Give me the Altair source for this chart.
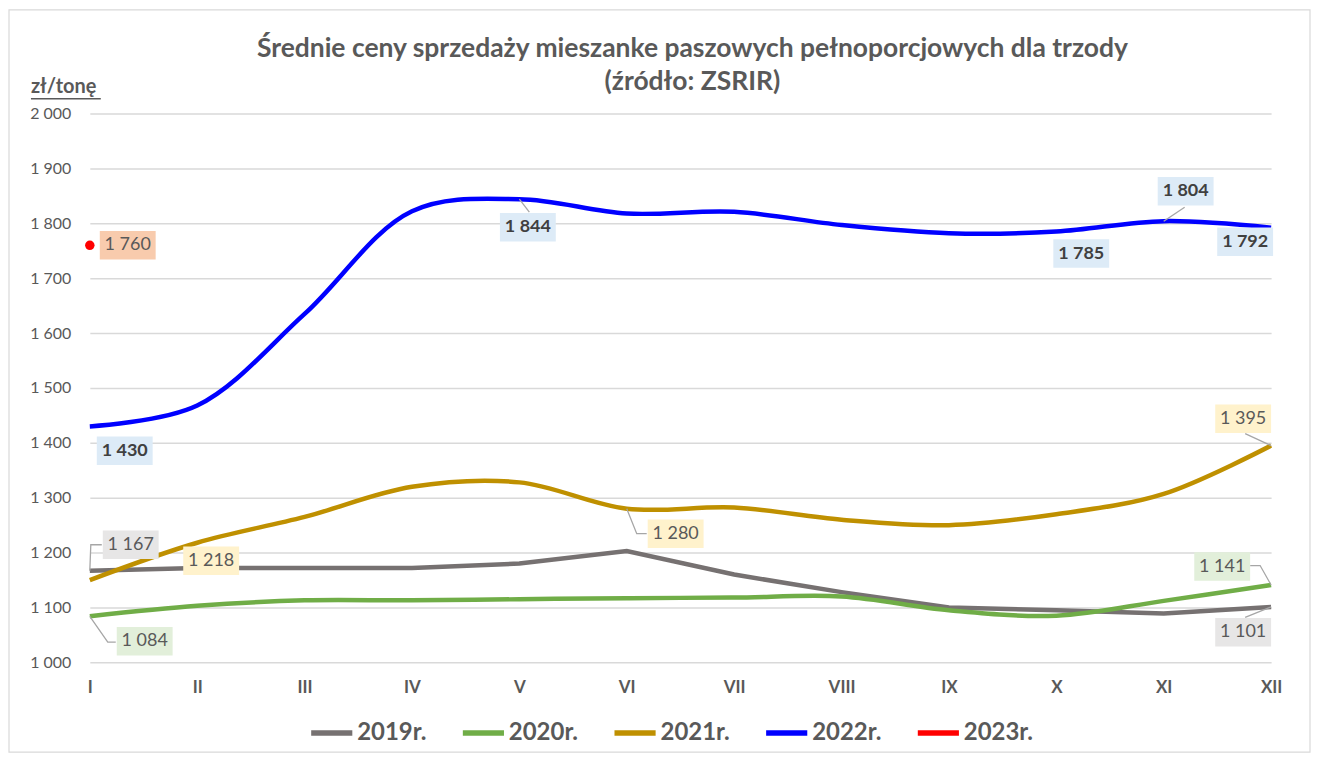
import altair as alt
import pandas as pd

# ---- data ----
months = list(range(1, 13))
roman = ["I", "II", "III", "IV", "V", "VI", "VII", "VIII", "IX", "X", "XI", "XII"]
series_names = ["2019r.", "2020r.", "2021r.", "2022r.", "2023r."]
v2019 = [1167, 1172, 1172, 1172, 1180, 1203, 1160, 1128, 1100, 1095, 1089, 1101]
v2020 = [1084, 1103, 1113, 1113, 1115, 1117, 1118, 1120, 1095, 1085, 1112, 1141]
v2021 = [1150, 1218, 1265, 1320, 1328, 1280, 1282, 1260, 1250, 1270, 1307, 1395]
v2022 = [1430, 1468, 1635, 1822, 1844, 1818, 1821, 1797, 1782, 1785, 1804, 1792]
v2023 = [1760]
y_ticks = list(range(1000, 2001, 100))
title_lines = ["Średnie ceny sprzedaży mieszanke paszowych pełnoporcjowych dla trzody",
               "(źródło: ZSRIR)"]
unit_label = "zł/tonę"

# ---- styles ----
line_colors = ["#767171", "#70AD47", "#BF9000", "#0000FF", "#FF0000"]
box_colors = {"2019r.": "#E7E6E6", "2020r.": "#E2EFDA", "2021r.": "#FFF2CC",
              "2022r.": "#DDEBF7", "2023r.": "#F8CBAD"}
FONT = "Lato"
GREY = "#595959"

W, H = 1184, 550
PX = W / 11.0
PY = H / 1000.0

values = {"2019r.": v2019, "2020r.": v2020, "2021r.": v2021, "2022r.": v2022, "2023r.": v2023}

rows = []
for name in series_names:
    for i, v in enumerate(values[name]):
        rows.append({"series": name, "month": months[i], "value": v})
df = pd.DataFrame(rows)

# label placement: (series, month, dx, dy, leader offsets) in pixels relative to the point
label_specs = [
    ("2019r.", 1, 41, -26, [(1, -26), (12, -26)]),
    ("2019r.", 12, -28, 25.5, [(-26, 10.5)]),
    ("2020r.", 1, 55, 25, [(18, 26), (26, 26)]),
    ("2020r.", 12, -49, -18.5, [(-11, -19.5), (-21, -19.5)]),
    ("2021r.", 2, 14, 18, []),
    ("2021r.", 6, 49, 25, [(10, 25), (20, 25)]),
    ("2021r.", 12, -28, -27, [(-26, -12)]),
    ("2022r.", 1, 35, 24.5, []),
    ("2022r.", 5, 8.5, 28, [(10, 13)]),
    ("2022r.", 10, 25, 22, []),
    ("2022r.", 11, 22, -30, [(21, -14)]),
    ("2022r.", 12, -26, 14, []),
    ("2023r.", 1, 38, 0, []),
]

lab_rows, lead_rows = [], []
for k, (name, m, dx, dy, lead) in enumerate(label_specs):
    v = values[name][m - 1]
    txt = f"{v:,}".replace(",", " ")
    lab_rows.append({"series": name, "x": m + dx / PX, "y": v - dy / PY, "text": txt,
                     "bg": box_colors[name], "bold": name == "2022r.",
                     "tc": "#404040" if name == "2022r." else GREY})
    if lead:
        pts = [(0, 0)] + lead
        for j, (ox, oy) in enumerate(pts):
            lead_rows.append({"id": k, "o": j, "x": m + ox / PX, "y": v - oy / PY})
labs = pd.DataFrame(lab_rows)
leads = pd.DataFrame(lead_rows)

xscale = alt.Scale(domain=[1, 12], nice=False, zero=False)
yscale = alt.Scale(domain=[1000, 2000], nice=False, zero=False)
roman_expr = "[" + ",".join(f"'{r}'" for r in roman) + "][datum.value - 1]"

xenc = alt.X("month:Q", scale=xscale,
             axis=alt.Axis(values=months, labelExpr=roman_expr, grid=False, domain=False,
                           ticks=False, labelFlush=False, labelFont=FONT, labelFontSize=17,
                           labelFontWeight="bold", labelColor=GREY, labelPadding=17, title=None))
yenc = alt.Y("value:Q", scale=yscale,
             axis=alt.Axis(values=y_ticks, labelExpr="replace(format(datum.value, ','), ',', ' ')",
                           grid=True, gridColor="#D9D9D9", gridWidth=1.5, domain=False, ticks=False,
                           labelFont=FONT, labelFontSize=16, labelColor=GREY, labelPadding=19,
                           title=None))

base_df = alt.Data(values=[{"a": 1}])

border = alt.Chart(base_df).mark_rect(filled=False, stroke="#D9D9D9", strokeWidth=1.2).encode(
    x=alt.value(-81), x2=alt.value(1223), y=alt.value(-104), y2=alt.value(640))

title1 = alt.Chart(base_df).mark_text(align="center", baseline="middle", font=FONT, fontSize=26.5,
                                       fontWeight="bold", color=GREY, text=title_lines[0]).encode(
    x=alt.value(604), y=alt.value(-65))
title2 = alt.Chart(base_df).mark_text(align="center", baseline="middle", font=FONT, fontSize=26.5,
                                       fontWeight="bold", color=GREY, text=title_lines[1]).encode(
    x=alt.value(604), y=alt.value(-32))

unit_txt = alt.Chart(base_df).mark_text(align="left", baseline="middle", font=FONT, fontSize=20,
                                         fontWeight="bold", color=GREY, text=unit_label).encode(
    x=alt.value(-59), y=alt.value(-27))
unit_rule = alt.Chart(base_df).mark_rule(color=GREY, strokeWidth=1.5).encode(
    x=alt.value(-59), x2=alt.value(11), y=alt.value(-15))

smooth = df[df.series.isin(["2020r.", "2021r.", "2022r.", "2023r."])]
lines_legend = alt.Chart(df).mark_line(strokeWidth=0, opacity=0).encode(
    x=xenc, y=yenc,
    color=alt.Color("series:N", scale=alt.Scale(domain=series_names, range=line_colors),
                    legend=alt.Legend(title=None, orient="none", direction="horizontal",
                                      legendX=219, legendY=597, symbolType="stroke",
                                      symbolStrokeWidth=5.5, symbolSize=1700, labelFont=FONT,
                                      labelFontSize=24, labelFontWeight="bold", labelColor=GREY,
                                      labelOffset=2, columnPadding=24, padding=0,
                                      symbolOpacity=1)))

line2019 = alt.Chart(df[df.series == "2019r."]).mark_line(strokeWidth=4.5, color="#767171").encode(
    x="month:Q", y="value:Q")
line_sm = alt.Chart(smooth).mark_line(strokeWidth=4.5, interpolate="catmull-rom").encode(
    x="month:Q", y="value:Q",
    color=alt.Color("series:N", scale=alt.Scale(domain=series_names, range=line_colors), legend=None))
pt2023 = alt.Chart(df[df.series == "2023r."]).mark_point(filled=True, size=90, color="#FF0000",
                                                        opacity=1).encode(x="month:Q", y="value:Q")

leader = alt.Chart(leads).mark_line(color="#A6A6A6", strokeWidth=1.3).encode(
    x="x:Q", y="y:Q", detail="id:N", order="o:Q")

boxes = alt.Chart(labs).mark_point(shape="M-1,-0.51L1,-0.51L1,0.51L-1,0.51Z", filled=True,
                                   size=3136, opacity=1, strokeWidth=0).encode(
    x="x:Q", y="y:Q", color=alt.Color("bg:N", scale=None))

txt_reg = alt.Chart(labs[~labs.bold]).mark_text(font=FONT, fontSize=18, baseline="middle",
                                                 align="center").encode(
    x="x:Q", y="y:Q", text="text:N", color=alt.Color("tc:N", scale=None))
txt_bold = alt.Chart(labs[labs.bold]).mark_text(font=FONT, fontSize=18, fontWeight="bold",
                                                 baseline="middle", align="center").encode(
    x="x:Q", y="y:Q", text="text:N", color=alt.Color("tc:N", scale=None))

chart = alt.layer(border, title1, title2, unit_txt, unit_rule, lines_legend, line2019, line_sm,
                  pt2023, leader, boxes, txt_reg, txt_bold).properties(
    width=W, height=H,
    padding=0,
).configure_view(stroke=None)

chart.save("out.html", embed_options={"renderer": "svg", "actions": False})
